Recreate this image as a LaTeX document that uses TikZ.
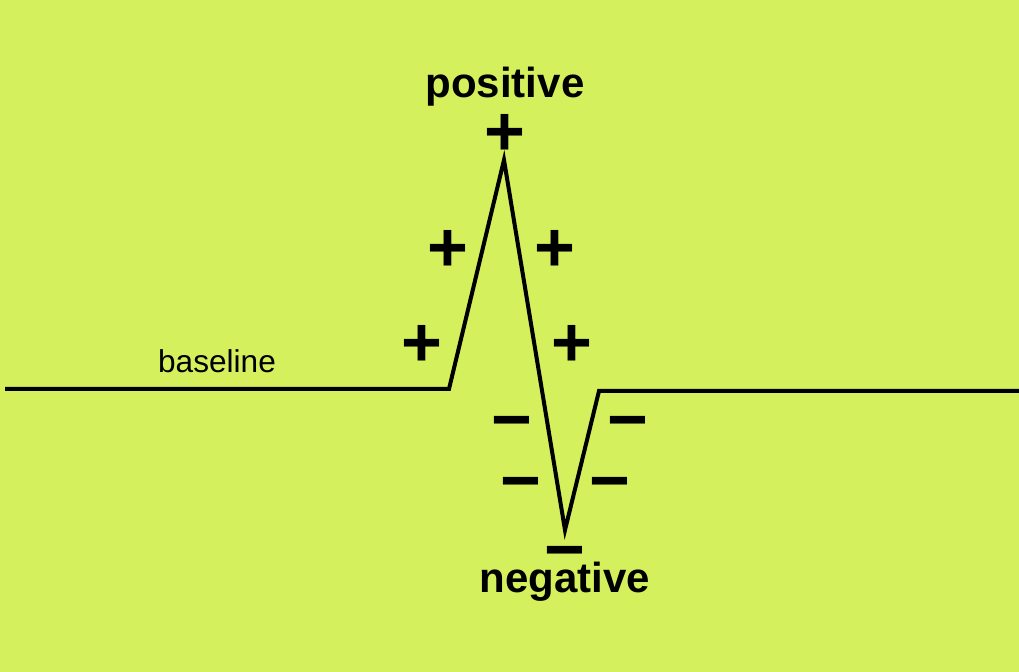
\documentclass[tikz,border=0pt]{standalone}
\usepackage{fontspec}
\setmainfont{Liberation Sans}
\definecolor{bg}{RGB}{212,240,92}
\begin{document}
\begin{tikzpicture}[x=0.5pt,y=-0.5pt,
  sign/.style={inner sep=0pt,font=\fontsize{35}{35}\selectfont\bfseries},
  plus/.style={sign},
  minus/.style={sign},
  word/.style={inner sep=0pt,anchor=base,font=\fontsize{21}{21}\selectfont\bfseries},
  wave/.style={line width=2pt,line join=miter}]
\fill[bg] (0,0) rectangle (1019,672);
\useasboundingbox (0,0) rectangle (1019,672);
% waveform points
\coordinate (L) at (5,389);
\coordinate (A) at (449,389);
\coordinate (P) at (504,160);
\coordinate (T) at (565,530);
\coordinate (B) at (599,391);
\coordinate (R) at (1019,391);
\draw[wave] (L) -- (A) -- (P) -- (T) -- (B) -- (R);
% labels
\node[word] (pos) at (505,98) {positive};
\node[word] (neg) at (565,593) {negative};
\node[inner sep=0pt,anchor=base,font=\fontsize{15.8}{16}\selectfont] (base) at (217,373) {baseline};
% plus signs
\node[plus] (p1) at (505,135) {+};
\node[plus] (p2) at (448,251) {+};
\node[plus] (p3) at (555,251) {+};
\node[plus] (p4) at (422,346) {+};
\node[plus] (p5) at (572,346) {+};
% minus signs
\node[minus] (m1) at (512,430) {−};
\node[minus] (m2) at (628,430) {−};
\node[minus] (m3) at (521,491) {−};
\node[minus] (m4) at (610,491) {−};
\node[minus] (m5) at (565,560) {−};
\end{tikzpicture}
\end{document}
